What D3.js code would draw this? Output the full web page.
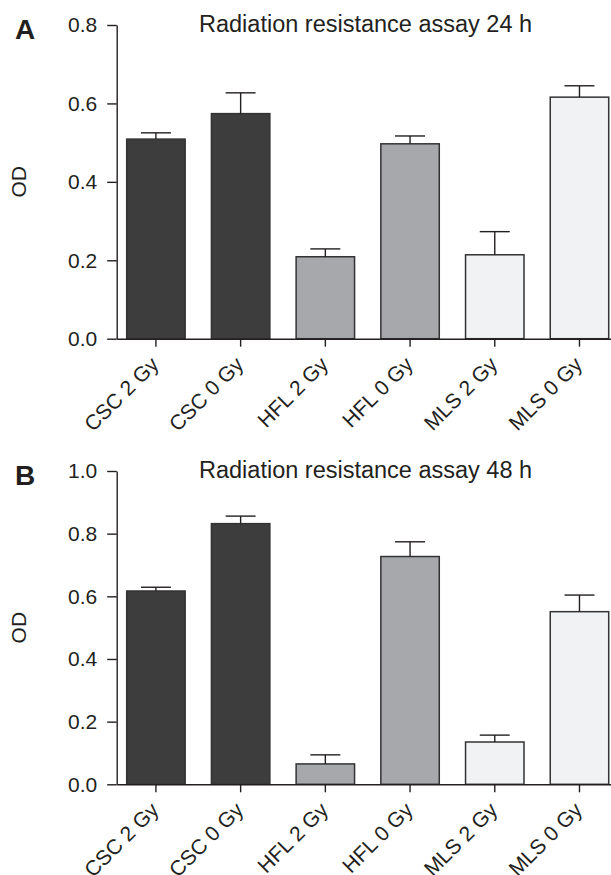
<!DOCTYPE html>
<html>
<head>
<meta charset="utf-8">
<script src="https://cdn.jsdelivr.net/npm/d3@7"></script>
<style>
  body { margin: 0; background: #fff; }
  svg { display: block; font-family: "Liberation Sans", Arial, sans-serif; }
</style>
</head>
<body>
<div id="chart"></div>
<script>
// categories and values
var groups = ["CSC 2 Gy", "CSC 0 Gy", "HFL 2 Gy", "HFL 0 Gy", "MLS 2 Gy", "MLS 0 Gy"];
var cellLine = ["CSC", "CSC", "HFL", "HFL", "MLS", "MLS"];

var od24 = [0.509, 0.574, 0.209, 0.497, 0.214, 0.616];
var err24 = [0.016, 0.053, 0.020, 0.020, 0.059, 0.029];

var od48 = [0.617, 0.832, 0.065, 0.727, 0.135, 0.551];
var err48 = [0.012, 0.024, 0.029, 0.047, 0.022, 0.053];

var ticks24 = [0.0, 0.2, 0.4, 0.6, 0.8];
var ticks48 = [0.0, 0.2, 0.4, 0.6, 0.8, 1.0];

var fills = { CSC: "#3d3d3d", HFL: "#a7a8ab", MLS: "#f1f2f4" };
var ink = "#231f20";

var width = 611, height = 875;

var svg = d3.select("#chart")
    .append("svg")
    .attr("width", width)
    .attr("height", height);

function drawPanel(opts) {
    var x = d3.scaleBand()
        .domain(groups)
        .range([116.7, 618.7])
        .paddingInner(0.31)
        .paddingOuter(0.118);

    var y = d3.scaleLinear()
        .domain([0, opts.ymax])
        .range([opts.bottom, opts.top]);

    var g = svg.append("g");

    // panel letter
    g.append("text")
        .attr("x", 15)
        .attr("y", opts.top + 14)
        .attr("font-size", 28)
        .attr("font-weight", "bold")
        .attr("fill", ink)
        .text(opts.letter);

    // title
    g.append("text")
        .attr("x", 199)
        .attr("y", opts.top + 7)
        .attr("font-size", 23.5)
        .attr("fill", ink)
        .text(opts.title);

    // y label
    g.append("text")
        .attr("transform", "translate(26," + ((opts.top + opts.bottom) / 2) + ") rotate(-90)")
        .attr("text-anchor", "middle")
        .attr("font-size", 21)
        .attr("fill", ink)
        .text("OD");

    var data = groups.map(function (d, i) {
        return { key: d, line: cellLine[i], value: opts.values[i], err: opts.errs[i] };
    });

    // bars
    g.selectAll(".bar")
        .data(data)
        .enter().append("rect")
        .attr("class", "bar")
        .attr("x", function (d) { return x(d.key); })
        .attr("y", function (d) { return y(d.value); })
        .attr("width", x.bandwidth())
        .attr("height", function (d) { return y(0) - y(d.value); })
        .attr("fill", function (d) { return fills[d.line]; })
        .attr("stroke", "#333")
        .attr("stroke-width", 1.5);

    // error bars (upper only)
    var eb = g.selectAll(".err")
        .data(data)
        .enter().append("g")
        .attr("class", "err")
        .attr("stroke", ink)
        .attr("stroke-width", 1.4);

    eb.append("line")
        .attr("x1", function (d) { return x(d.key) + x.bandwidth() / 2; })
        .attr("x2", function (d) { return x(d.key) + x.bandwidth() / 2; })
        .attr("y1", function (d) { return y(d.value); })
        .attr("y2", function (d) { return y(d.value + d.err); });

    eb.append("line")
        .attr("x1", function (d) { return x(d.key) + x.bandwidth() / 2 - 15; })
        .attr("x2", function (d) { return x(d.key) + x.bandwidth() / 2 + 15; })
        .attr("y1", function (d) { return y(d.value + d.err); })
        .attr("y2", function (d) { return y(d.value + d.err); });

    // y axis
    var yAxis = g.append("g")
        .attr("transform", "translate(116.7,0)")
        .call(d3.axisLeft(y)
            .tickValues(opts.ticks)
            .tickFormat(d3.format(".1f"))
            .tickSize(9.5)
            .tickSizeOuter(0)
            .tickPadding(10));

    yAxis.selectAll("text")
        .attr("font-size", 21)
        .attr("font-family", "Liberation Sans, Arial, sans-serif")
        .attr("fill", ink);

    // x axis
    var xAxis = g.append("g")
        .attr("transform", "translate(0," + opts.bottom + ")")
        .call(d3.axisBottom(x).tickSize(8).tickSizeOuter(0));

    xAxis.selectAll("text")
        .attr("font-size", 21)
        .attr("font-family", "Liberation Sans, Arial, sans-serif")
        .attr("fill", ink)
        .attr("text-anchor", "end")
        .attr("dy", null)
        .attr("y", null)
        .attr("transform", "translate(4,27) rotate(-45)");

    g.selectAll(".domain, .tick line")
        .attr("stroke", ink)
        .attr("stroke-width", 1.4);
}

drawPanel({
    letter: "A", title: "Radiation resistance assay 24 h",
    values: od24, errs: err24, ticks: ticks24, ymax: 0.8,
    top: 25, bottom: 338.7
});

drawPanel({
    letter: "B", title: "Radiation resistance assay 48 h",
    values: od48, errs: err48, ticks: ticks48, ymax: 1.0,
    top: 471, bottom: 784.3
});
</script>
</body>
</html>
